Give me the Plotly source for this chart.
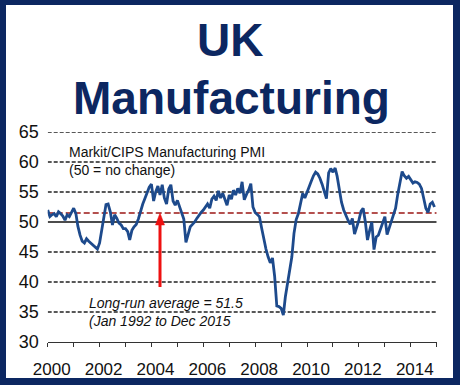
import plotly.graph_objects as go
import pandas as pd

# ---- data ----
dates = pd.date_range("2000-01-01", "2014-12-01", freq="MS")
pmi_2000 = [52.0, 50.9, 51.2, 51.4, 50.9, 51.7, 51.4, 51.0, 50.3, 51.2, 50.9, 51.6]
pmi_2001 = [52.3, 51.4, 49.3, 47.8, 46.8, 46.5, 47.2, 46.8, 46.5, 46.2, 45.8, 45.5]
pmi_2002 = [46.5, 48.6, 50.8, 52.9, 53.0, 51.7, 49.5, 51.2, 50.6, 49.8, 49.5, 48.9]
pmi_2003 = [48.9, 48.4, 47.0, 48.6, 49.2, 49.6, 50.5, 52.0, 53.0, 53.9, 54.8, 55.8]
pmi_2004 = [56.3, 53.5, 55.0, 56.0, 54.5, 56.2, 54.0, 53.0, 55.5, 56.2, 53.5, 52.8]
pmi_2005 = [53.6, 52.5, 51.7, 50.5, 46.6, 47.8, 49.2, 49.6, 50.0, 50.6, 51.2, 51.6]
pmi_2006 = [52.0, 52.6, 53.0, 52.3, 53.8, 54.3, 53.6, 55.2, 54.0, 54.8, 53.8, 52.8]
pmi_2007 = [54.5, 53.8, 55.3, 54.5, 55.6, 54.8, 56.7, 53.7, 54.6, 55.3, 56.4, 52.5]
pmi_2008 = [51.6, 51.2, 50.9, 49.0, 47.0, 45.5, 44.2, 43.2, 44.0, 41.0, 36.0, 35.9]
pmi_2009 = [35.6, 34.5, 37.5, 39.9, 41.8, 44.2, 48.1, 50.4, 51.4, 53.4, 54.8, 54.0]
pmi_2010 = [55.0, 56.2, 56.8, 57.7, 58.3, 58.0, 57.3, 56.3, 55.0, 53.9, 58.2, 58.9]
pmi_2011 = [58.3, 59.0, 57.6, 55.0, 53.3, 52.0, 51.0, 50.3, 49.6, 50.6, 48.0, 49.0]
pmi_2012 = [50.3, 51.8, 52.3, 50.0, 47.0, 48.6, 50.0, 45.4, 47.5, 47.8, 48.8, 50.0]
pmi_2013 = [50.9, 47.9, 49.0, 50.0, 51.4, 52.3, 54.6, 56.4, 58.4, 57.7, 57.3, 57.6]
pmi_2014 = [57.0, 56.5, 56.7, 56.6, 56.3, 55.6, 54.0, 52.3, 51.6, 53.0, 53.3, 52.5]
pmi = (pmi_2000 + pmi_2001 + pmi_2002 + pmi_2003 + pmi_2004 + pmi_2005 + pmi_2006 +
       pmi_2007 + pmi_2008 + pmi_2009 + pmi_2010 + pmi_2011 + pmi_2012 + pmi_2013 + pmi_2014)

long_run_avg = 51.5
no_change = 50
dashed_levels = [35, 40, 45, 55, 60, 65]
y_ticks = [30, 35, 40, 45, 50, 55, 60, 65]
year_ticks = [f"{y}-01-01" for y in range(2000, 2016)]
year_text = [str(y) if (y % 2 == 0 and y < 2015) else "" for y in range(2000, 2016)]

# ---- geometry helpers (pixels -> paper) ----
W, H = 460, 385
def px(x):
    return x / W
def py(y):
    return 1 - y / H

NAVY = "#0c2761"
RED = "#ee1111"
FONT = "Liberation Sans, Arial, sans-serif"
x0, x1 = "2000-01-01", "2015-01-01"

fig = go.Figure()
fig.add_trace(go.Scatter(x=dates, y=pmi, mode="lines",
                         line=dict(color="#1d4a8c", width=2.8), hoverinfo="skip"))

shapes = []
for lv in dashed_levels:
    shapes.append(dict(type="line", xref="x", yref="y", x0=x0, x1=x1, y0=lv, y1=lv,
                       line=dict(color="#222222", width=1.3, dash="4px,2px"), layer="below"))
shapes.append(dict(type="line", xref="x", yref="y", x0=x0, x1=x1, y0=no_change, y1=no_change,
                   line=dict(color="#111111", width=1.6), layer="below"))
shapes.append(dict(type="line", xref="x", yref="y", x0=x0, x1=x1, y0=long_run_avg, y1=long_run_avg,
                   line=dict(color="#b4504e", width=2, dash="6px,3px"), layer="below"))
# white text boxes hiding gridlines
shapes.append(dict(type="rect", xref="paper", yref="paper", x0=px(58), x1=px(300),
                   y0=py(182), y1=py(141), fillcolor="white", line=dict(width=0), layer="below"))
shapes.append(dict(type="rect", xref="paper", yref="paper", x0=px(77), x1=px(277),
                   y0=py(333), y1=py(290), fillcolor="white", line=dict(width=0), layer="below"))
# red arrow pointing at the long-run average
ax_px = 160
shapes.append(dict(type="line", xref="paper", yref="paper", x0=px(ax_px), x1=px(ax_px),
                   y0=py(287), y1=py(222), line=dict(color=RED, width=3)))
shapes.append(dict(type="path", xref="paper", yref="paper",
                   path=f"M {px(ax_px - 4.5)},{py(225)} L {px(ax_px + 4.5)},{py(225)} L {px(ax_px)},{py(213)} Z",
                   fillcolor=RED, line=dict(color=RED, width=0.5)))
# navy frame
shapes += [
    dict(type="rect", xref="paper", yref="paper", x0=0, x1=1, y0=py(5), y1=1, fillcolor=NAVY, line=dict(width=0)),
    dict(type="rect", xref="paper", yref="paper", x0=0, x1=1, y0=0, y1=py(378), fillcolor=NAVY, line=dict(width=0)),
    dict(type="rect", xref="paper", yref="paper", x0=0, x1=px(6), y0=0, y1=1, fillcolor=NAVY, line=dict(width=0)),
    dict(type="rect", xref="paper", yref="paper", x0=px(453), x1=1, y0=0, y1=1, fillcolor=NAVY, line=dict(width=0)),
]

annotations = [
    dict(text="<b>UK</b>", xref="paper", yref="paper", x=px(230), y=py(40), showarrow=False,
         font=dict(family=FONT, size=46, color=NAVY), xanchor="center", yanchor="middle"),
    dict(text="<b>Manufacturing</b>", xref="paper", yref="paper", x=px(231), y=py(98), showarrow=False,
         font=dict(family=FONT, size=46, color=NAVY), xanchor="center", yanchor="middle"),
    dict(text="Markit/CIPS Manufacturing PMI<br>(50 = no change)", xref="paper", yref="paper",
         x=px(67), y=py(161), showarrow=False, align="left", xanchor="left", yanchor="middle",
         font=dict(family=FONT, size=14, color="#111111")),
    dict(text="<i>Long-run average = 51.5<br>(Jan 1992 to Dec 2015</i>", xref="paper", yref="paper",
         x=px(87), y=py(312), showarrow=False, align="left", xanchor="left", yanchor="middle",
         font=dict(family=FONT, size=14, color="#111111")),
]

fig.update_layout(
    width=W, height=H, margin=dict(l=0, r=0, t=0, b=0, autoexpand=False),
    paper_bgcolor="white", plot_bgcolor="white", showlegend=False,
    shapes=shapes, annotations=annotations,
    xaxis=dict(domain=[px(47.7), px(436.7)], range=[x0, x1], type="date", automargin=False,
               tickvals=year_ticks, ticktext=year_text, showgrid=False, zeroline=False,
               showline=True, linecolor="#333333", linewidth=1,
               ticks="outside", ticklen=4, tickcolor="#333333", ticklabelshift=4,
               ticklabelstandoff=8,
               tickfont=dict(family=FONT, size=17, color="#111111")),
    yaxis=dict(domain=[py(342), py(132)], range=[30, 65], tickvals=y_ticks, automargin=False,
               showgrid=False, zeroline=False, showline=False, ticks="",
               ticklabelstandoff=8,
               tickfont=dict(family=FONT, size=18, color="#111111")),
)

fig.write_html("out.html", config={"displayModeBar": False},
               post_script="document.body.style.margin='0';document.body.style.padding='0';"
                           "document.documentElement.style.overflow='hidden';")
